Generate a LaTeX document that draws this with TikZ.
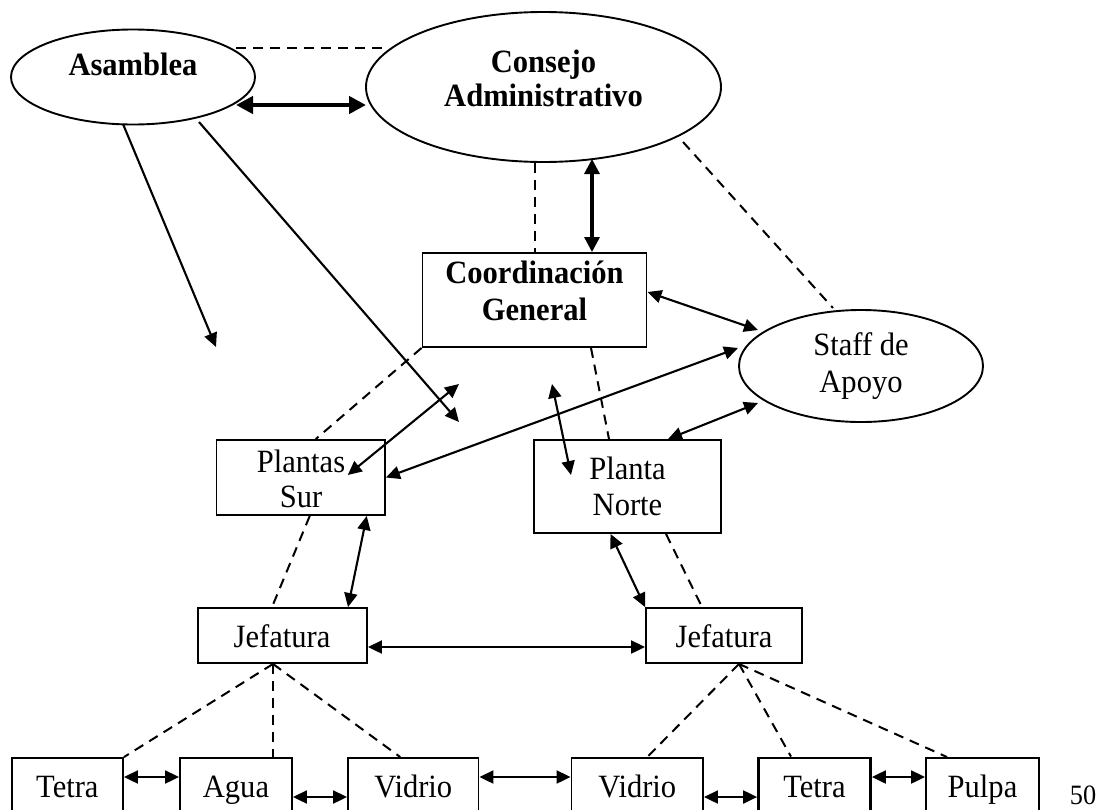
\documentclass[tikz,border=0pt]{standalone}
\usepackage{fontspec}
\setmainfont[FakeStretch=0.94]{Liberation Serif}
\usetikzlibrary{arrows.meta,shapes.geometric}
% two centred lines; the baseline of the block is that of the second line
\newcommand{\stacktext}[3]{\parbox[b]{330pt}{\centering\fontsize{32.5}{#1}\selectfont #2\\#3}}
\begin{document}
\begin{tikzpicture}[x=1pt,y=-1pt,
  box/.style={draw,rectangle,line width=1.9pt,inner sep=0pt},
  oval/.style={draw,ellipse,line width=1.9pt,inner sep=0pt},
  txt/.style={inner sep=0pt,anchor=base,font=\fontsize{32.5}{36}\selectfont},
  btxt/.style={txt,font=\fontsize{32.5}{36}\selectfont\bfseries},
  link/.style={line width=2.1pt},
  dline/.style={line width=2pt,dash pattern=on 10pt off 7pt},
  twoway/.style={link,arrows={Triangle[length=14pt,width=13pt]-Triangle[length=14pt,width=13pt]}},
  oneway/.style={link,arrows={-Triangle[length=14pt,width=13pt]}},
  bottombox/.style={box,minimum height=72pt}
]
\useasboundingbox (0,0) rectangle (1102,809);
\clip (0,0) rectangle (1102,809);

% --- shapes ---
\node[oval,minimum width=244pt,minimum height=95pt] (asam) at (133,77) {};
\node[oval,minimum width=355pt,minimum height=150pt] (cons) at (543.5,87) {};
\node[box,minimum width=224pt,minimum height=94pt] (cg) at (534.5,300) {};
\node[oval,minimum width=244pt,minimum height=112pt] (staff) at (861,366) {};
\node[box,minimum width=168.5pt,minimum height=75pt] (ps) at (300.75,477.5) {};
\node[box,minimum width=187pt,minimum height=93pt] (pn) at (627.5,486.5) {};
\node[box,minimum width=169pt,minimum height=55pt] (jl) at (282.5,635.5) {};
\node[box,minimum width=156pt,minimum height=55pt] (jr) at (724,635.5) {};
\node[bottombox,minimum width=111.3pt] (b1) at (67.35,794) {};
\node[bottombox,minimum width=112pt] (b2) at (236,794) {};
\node[bottombox,minimum width=130.5pt] (b3) at (413.25,794) {};
\node[bottombox,minimum width=131.5pt] (b4) at (637.25,794) {};
\node[bottombox,minimum width=112pt,line width=2.8pt] (b5) at (814.5,794) {};
\node[bottombox,minimum width=113pt] (b6) at (982.5,794) {};

% --- texts ---
\node[btxt] (asam-t) at (133,75) {Asamblea};
\node[btxt] (cons-t) at (543.5,106) {\stacktext{34}{Consejo}{Administrativo}};
\node[btxt] (cg-t) at (534.5,320) {\stacktext{37}{Coordinación}{General}};
\node[txt] (staff-t) at (861,392) {\stacktext{37}{Staff de}{Apoyo}};
\node[txt] (ps-t) at (301,507) {\stacktext{35}{Plantas}{Sur}};
\node[txt] (pn-t) at (627.5,515) {\stacktext{36}{Planta}{Norte}};
\node[txt] (jl-t) at (282,647) {Jefatura};
\node[txt] (jr-t) at (724,647) {Jefatura};
\node[txt] (b1-t) at (67.35,797) {Tetra};
\node[txt] (b2-t) at (236,797) {Agua};
\node[txt] (b3-t) at (413.25,797) {Vidrio};
\node[txt] (b4-t) at (637.25,797) {Vidrio};
\node[txt] (b5-t) at (814.5,797) {Tetra};
\node[txt] (b6-t) at (982.5,797) {Pulpa};
\node[txt,font=\fontsize{28}{30}\selectfont] (pg) at (1083,804) {50};

% --- loose arrow ends ---
\coordinate (fa) at (216,347);
\coordinate (fb) at (459,422);
\coordinate (fc) at (459,384);
\coordinate (fd) at (552,384);

% --- top level ---
\draw[dline] ([xshift=103pt,yshift=29pt]asam.center) -- ([xshift=-157.5pt,yshift=39pt]cons.center);
\draw[line width=4.8pt,arrows={Triangle[length=17pt,width=17pt]-Triangle[length=17pt,width=17pt]}]
  ([xshift=103pt,yshift=-28pt]asam.center) -- ([xshift=-177.5pt,yshift=-18pt]cons.center);
\draw[oneway] ([xshift=-10pt,yshift=-47pt]asam.center) -- (fa);
\draw[oneway] ([xshift=66pt,yshift=-45pt]asam.center) -- (fb);
\draw[dline] (cons.south -| cg.north) -- (cg.north);
\draw[line width=3.2pt,arrows={Triangle[length=15pt,width=15pt]-Triangle[length=15pt,width=15pt]}]
  ([xshift=48.5pt,yshift=-72pt]cons.center) -- ([xshift=57.5pt]cg.north);
\draw[dline] ([xshift=139.5pt,yshift=-55pt]cons.center) -- ([xshift=-28pt,yshift=58pt]staff.center);

% --- middle level ---
\draw[twoway] ([yshift=8pt]cg.east) -- ([xshift=-103pt,yshift=36pt]staff.center);
\draw[twoway] (ps.east) -- ([xshift=-123pt,yshift=18pt]staff.center);
\draw[twoway] ([xshift=47pt,yshift=2.5pt]ps.center) -- (fc);
\draw[twoway] (fd) -- ([xshift=-56.5pt,yshift=11.5pt]pn.center);
\draw[dline] ([xshift=56.5pt]cg.south) -- ([xshift=-18.5pt]pn.north);
\draw[dline] (cg.south west) -- ([xshift=15pt]ps.north);
\draw[twoway] ([xshift=40.5pt]pn.north) -- ([xshift=-103pt,yshift=-37pt]staff.center);

% --- plants to heads ---
\draw[dline] ([xshift=9pt]ps.south) -- ([xshift=-10.5pt]jl.north);
\draw[twoway] ([xshift=66pt]ps.south) -- ([xshift=65.5pt]jl.north);
\draw[twoway] ([xshift=-17pt]pn.south) -- (jr.north west);
\draw[dline] ([xshift=38.5pt]pn.south) -- ([xshift=-22pt]jr.north);
\draw[twoway] ([yshift=-11.5pt]jl.east) -- ([yshift=-11.5pt]jr.west);

% --- heads to lines ---
\draw[dline] ([xshift=-9.5pt]jl.south) -- (b1.north east);
\draw[dline] ([xshift=-9.5pt]jl.south) -- ([xshift=37pt]b2.north);
\draw[dline] ([xshift=-9.5pt]jl.south) -- ([xshift=-13pt]b3.north);
\draw[dline] ([xshift=15pt]jr.south) -- ([xshift=10pt]b4.north);
\draw[dline] ([xshift=15pt]jr.south) -- ([xshift=-23.5pt]b5.north);
\draw[dline] ([xshift=15pt]jr.south) -- ([xshift=-35.5pt]b6.north);

% --- lines among themselves ---
\draw[twoway] ([yshift=17pt]b1.east) -- ([yshift=17pt]b2.west);
\draw[twoway] ([yshift=-3pt]b2.east) -- ([yshift=-3pt]b3.west);
\draw[twoway] ([yshift=17pt]b3.east) -- ([yshift=17pt]b4.west);
\draw[twoway] ([yshift=-3pt]b4.east) -- ([yshift=-3pt]b5.west);
\draw[twoway] ([yshift=17pt]b5.east) -- ([yshift=17pt]b6.west);
\end{tikzpicture}
\end{document}
